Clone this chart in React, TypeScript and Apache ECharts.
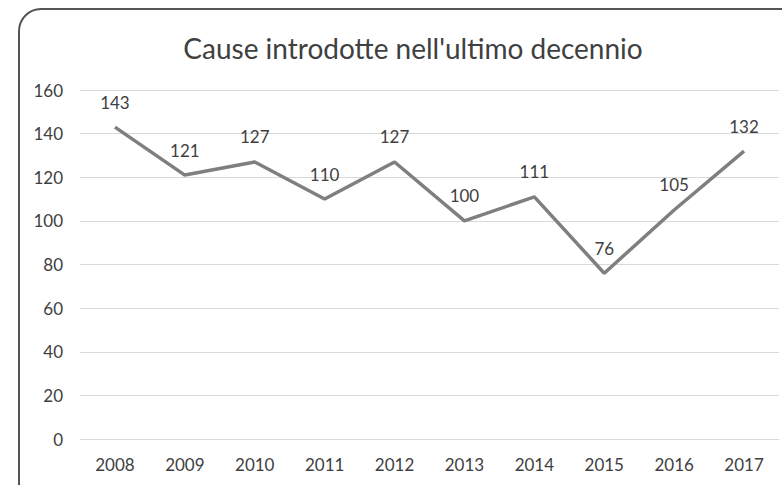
import React, { useEffect, useRef } from "react";
import * as echarts from "echarts";

const title = "Cause introdotte nell'ultimo decennio";
const years = ["2008", "2009", "2010", "2011", "2012", "2013", "2014", "2015", "2016", "2017"];
const values = [143, 121, 127, 110, 127, 100, 111, 76, 105, 132];
const yMin = 0;
const yMax = 160;
const yStep = 20;

export default function App() {
  const ref = useRef<HTMLDivElement>(null);
  useEffect(() => {
    if (!ref.current) return;
    const chart = echarts.init(ref.current, null, { renderer: "svg" });
    const font = "Lato, 'Open Sans', sans-serif";
    chart.setOption({
      animation: false,
      backgroundColor: "#ffffff",
      graphic: [
        {
          type: "rect",
          shape: { x: 19, y: 9, width: 800, height: 520, r: 22 },
          style: { fill: "none", stroke: "#555555", lineWidth: 2 },
          z: -1,
        },
      ],
      title: {
        text: title,
        left: 408,
        textAlign: "center",
        top: 29,
        textStyle: { fontFamily: font, fontSize: 28, fontWeight: "normal", color: "#404040" },
      },
      grid: { left: 80, right: 3, top: 90, bottom: 46, containLabel: false },
      xAxis: {
        type: "category",
        data: years,
        boundaryGap: true,
        axisLine: { show: true, lineStyle: { color: "#d9d9d9", width: 1 } },
        axisTick: { show: false },
        axisLabel: { color: "#404040", fontFamily: font, fontSize: 17, margin: 17 },
      },
      yAxis: {
        type: "value",
        min: yMin,
        max: yMax,
        interval: yStep,
        axisLine: { show: false },
        axisTick: { show: false },
        splitLine: { lineStyle: { color: "#d9d9d9", width: 1 } },
        axisLabel: { color: "#404040", fontFamily: font, fontSize: 17, margin: 17 },
      },
      series: [
        {
          type: "line",
          data: values,
          symbol: "circle",
          symbolSize: 1,
          showSymbol: true,
          itemStyle: { color: "rgba(0,0,0,0)" },
          lineStyle: { color: "#7f7f7f", width: 3.5 },
          label: {
            show: true,
            position: "top",
            distance: 16,
            color: "#404040",
            fontFamily: font,
            fontSize: 17,
          },
        },
      ],
    });
    return () => chart.dispose();
  }, []);
  return (
    <div
      ref={ref}
      style={{ position: "fixed", left: 0, top: 0, width: 782, height: 485 }}
    />
  );
}
